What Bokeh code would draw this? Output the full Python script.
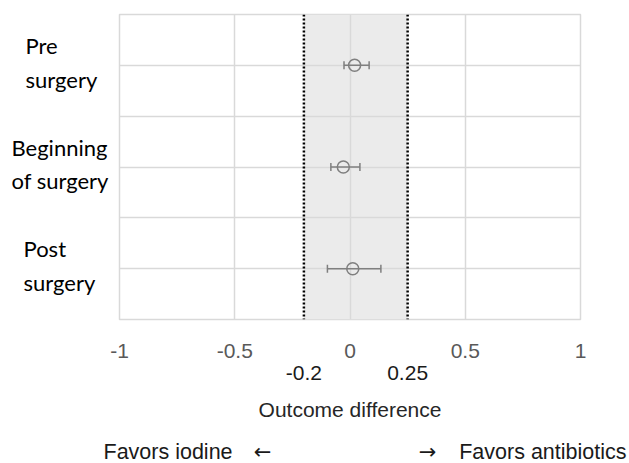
from bokeh.plotting import figure
from bokeh.layouts import row, column
from bokeh.models import (ColumnDataSource, Span, BoxAnnotation, Whisker, TeeHead,
                          FixedTicker, LinearAxis, Range1d)
from bokeh.core.properties import value
from bokeh.embed import file_html
from bokeh.resources import INLINE

# ---- data ----
categories = ["Pre\nsurgery", "Beginning\nof surgery", "Post\nsurgery"]
row_pos = [5, 3, 1]
estimate = [0.02, -0.029, 0.012]
lower = [-0.026, -0.083, -0.098]
upper = [0.083, 0.043, 0.134]
margins = [-0.2, 0.25]
margin_labels = ["-0.2", "0.25"]
x_ticks = [-1, -0.5, 0, 0.5, 1]
x_tick_labels = ["-1", "-0.5", "0", "0.5", "1"]
y_grid = [0, 1, 2, 3, 4, 5, 6]
direction_texts = ["Favors iodine", "Favors antibiotics"]
arrow_texts = ["\u2190", "\u2192"]

GRID = "#d9d9d9"
MARK = "#7f7f7f"
SANS = "Liberation Sans"
CAL = "Lato"

TOP, BOT = 14, 103
MAIN_H = 423
LEFT_W = 109

# ---- main plot ----
p = figure(width=629 - LEFT_W, height=MAIN_H, x_range=(x_ticks[0], x_ticks[-1]),
           y_range=(y_grid[0], y_grid[-1]), output_backend="svg",
           toolbar_location=None, min_border_left=119 - LEFT_W, min_border_right=49,
           min_border_top=TOP, min_border_bottom=BOT)
p.background_fill_color = "white"
p.border_fill_color = "white"
p.outline_line_color = GRID
p.outline_line_width = 1.5

p.yaxis.visible = False
p.yaxis.ticker = FixedTicker(ticks=y_grid)
p.ygrid.ticker = FixedTicker(ticks=y_grid)
p.xaxis.ticker = FixedTicker(ticks=x_ticks)
p.xaxis.major_label_overrides = {t: l for t, l in zip(x_ticks, x_tick_labels)}

ax2 = LinearAxis(ticker=FixedTicker(ticks=margins),
                 major_label_overrides={m: l for m, l in zip(margins, margin_labels)})
p.add_layout(ax2, "below")

for ax, col in ((p.xaxis[0], "#595959"), (ax2, "#1a1a1a")):
    ax.axis_line_color = None
    ax.major_tick_line_color = None
    ax.minor_tick_line_color = None
    ax.major_tick_out = 0
    ax.major_tick_in = 0
    ax.minor_tick_out = 0
    ax.major_label_text_font = SANS
    ax.major_label_text_font_size = "21px"
    ax.major_label_text_color = col
p.xaxis[0].major_label_standoff = 24
ax2.major_label_standoff = 5
ax2.axis_label = "Outcome difference"
ax2.axis_label_text_font = SANS
ax2.axis_label_text_font_size = "21px"
ax2.axis_label_text_font_style = "normal"
ax2.axis_label_text_color = "#262626"
ax2.axis_label_standoff = 15

for g in (p.xgrid, p.ygrid):
    g.grid_line_color = GRID
    g.grid_line_width = 1.5

band = BoxAnnotation(left=margins[0], right=margins[1], fill_color="#ebebeb",
                     fill_alpha=1.0, line_color=None, level="image")
p.add_layout(band)
for m in margins:
    p.add_layout(Span(location=m, dimension="height", line_color="black",
                      line_width=2.5, line_dash="2 2"))

src = ColumnDataSource(dict(y=row_pos, est=estimate, lo=lower, hi=upper))
p.add_layout(Whisker(source=src, base="y", lower="lo", upper="hi", dimension="width",
                     line_color=MARK, line_width=1.5,
                     lower_head=TeeHead(size=8, line_color=MARK, line_width=1.5),
                     upper_head=TeeHead(size=8, line_color=MARK, line_width=1.5)))
p.scatter("est", "y", source=src, marker="circle", size=12, fill_color=None,
          line_color=MARK, line_width=1.5)

# ---- category labels (left panel) ----
lf = figure(width=LEFT_W, height=MAIN_H, x_range=Range1d(0, LEFT_W), y_range=p.y_range,
            output_backend="svg", toolbar_location=None, min_border_left=0,
            min_border_right=0, min_border_top=TOP, min_border_bottom=BOT)
lf.axis.visible = False
lf.grid.visible = False
lf.outline_line_color = None
lsrc = ColumnDataSource(dict(x=[25, 11, 23], y=row_pos, t=categories))
lf.text("x", "y", text="t", source=lsrc, text_font=value(CAL), text_font_size="22px",
        text_color="#000000", text_align="left", text_baseline="middle",
        text_line_height=1.25, y_offset=-3)

# ---- direction labels (bottom panel) ----
bf = figure(width=629, height=463 - MAIN_H, x_range=Range1d(0, 629), y_range=Range1d(0, 40),
            output_backend="svg", toolbar_location=None, min_border=0)
bf.axis.visible = False
bf.grid.visible = False
bf.outline_line_color = None
bsrc = ColumnDataSource(dict(x=[103, 626], y=[12, 12], t=direction_texts,
                             a=["left", "right"]))
bf.text("x", "y", text="t", source=bsrc, text_font=value(SANS), text_font_size="21.5px",
        text_color="#1a1a1a", text_align="a", text_baseline="middle")
asrc = ColumnDataSource(dict(x=[262, 427], y=[12, 12], t=arrow_texts))
bf.text("x", "y", text="t", source=asrc, text_font=value("DejaVu Sans"),
        text_font_size="21px", text_color="#1a1a1a", text_align="center",
        text_baseline="middle")

layout = column(row(lf, p, spacing=0), bf, spacing=0)
open("out.html", "w").write(file_html(layout, INLINE))
